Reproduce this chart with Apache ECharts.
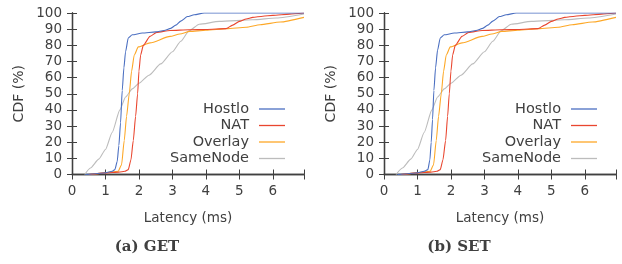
<!DOCTYPE html>
<html>
<head>
<meta charset="utf-8">
<script src="https://cdn.jsdelivr.net/npm/echarts@6/dist/echarts.min.js"></script>
<style>
  html, body { margin: 0; padding: 0; background: #fff; }
  #main { width: 622px; height: 264px; }
</style>
</head>
<body>
<div id="main"></div>
<script>
// series names and tick labels
var names = ['Hostlo', 'NAT', 'Overlay', 'SameNode'];
var colors = ['#4b6fc1', '#e9462f', '#fda827', '#bcbcbc'];
var xTicks = [0, 1, 2, 3, 4, 5, 6];
var yTicks = [0, 10, 20, 30, 40, 50, 60, 70, 80, 90, 100];

// (a) GET : latency (ms) / cdf (%)
var getHostloLat = [0.4, 0.7, 1.0, 1.2, 1.28, 1.35, 1.4, 1.45, 1.5, 1.55, 1.6, 1.68, 1.8, 2.1, 2.5, 2.75, 2.95, 3.1, 3.25, 3.45, 3.65, 3.95, 6.93];
var getHostloCdf = [0, 0.5, 1, 2, 3, 8, 18, 32, 52, 66, 76, 84.5, 86.5, 87.6, 88.3, 89.2, 90.5, 92.5, 95, 97.8, 98.9, 100, 100];
var getNatLat = [0.5, 1.0, 1.4, 1.58, 1.68, 1.76, 1.83, 1.9, 1.96, 2.0, 2.05, 2.13, 2.33, 2.53, 2.93, 3.5, 4.0, 4.6, 4.8, 5.0, 5.2, 5.4, 5.7, 6.0, 6.5, 6.93];
var getNatCdf = [0, 1, 1.5, 2, 3, 9, 21, 36, 50, 64, 74, 80, 85.5, 88, 89.2, 89.6, 89.8, 90.3, 92.5, 94.8, 96.3, 97.3, 98, 98.5, 99.3, 100];
var getOverlayLat = [0.5, 1.0, 1.38, 1.48, 1.56, 1.63, 1.71, 1.78, 1.86, 1.98, 2.33, 2.93, 3.22, 3.52, 4.0, 4.62, 5.2, 5.62, 6.22, 6.93];
var getOverlayCdf = [0, 1, 2, 6, 21, 36, 50, 64, 74, 79, 81.5, 85.5, 87, 88.6, 89.3, 90.3, 91.2, 92.7, 94.4, 97.3];
var getSameLat = [0.38, 0.55, 0.8, 1.0, 1.2, 1.43, 1.6, 1.8, 2.0, 2.3, 2.65, 3.0, 3.25, 3.5, 3.8, 4.4, 5.4, 6.1, 6.93];
var getSameCdf = [0, 4, 9.5, 15.5, 26, 40, 48, 53, 56.5, 61.5, 68.5, 76, 82.5, 89, 93, 94.8, 95.8, 96.9, 99.4];

// (b) SET
var setHostloLat = [0.4, 0.7, 1.0, 1.2, 1.31, 1.37, 1.41, 1.45, 1.49, 1.54, 1.6, 1.68, 1.8, 2.1, 2.5, 2.75, 2.95, 3.1, 3.25, 3.45, 3.65, 3.95, 6.93];
var setHostloCdf = [0, 0.5, 1, 2, 3, 9, 20, 34, 52, 66, 77, 84.5, 86.5, 87.6, 88.3, 89.2, 90.5, 92.5, 95, 97.8, 98.9, 100, 100];
var setNatLat = [0.5, 1.0, 1.4, 1.58, 1.68, 1.76, 1.84, 1.9, 1.95, 2.0, 2.05, 2.13, 2.33, 2.53, 2.93, 3.5, 4.0, 4.6, 4.8, 5.0, 5.2, 5.4, 5.7, 6.0, 6.5, 6.93];
var setNatCdf = [0, 1, 1.5, 2, 3, 9, 21, 36, 50, 64, 74, 80, 85.5, 88, 89.2, 89.6, 89.8, 90.3, 92.5, 94.8, 96.3, 97.3, 98, 98.5, 99.3, 100];
var setOverlayLat = [0.5, 1.0, 1.38, 1.48, 1.56, 1.63, 1.71, 1.78, 1.86, 1.98, 2.33, 2.93, 3.22, 3.52, 4.0, 4.62, 5.2, 5.62, 6.22, 6.93];
var setOverlayCdf = [0, 1, 2, 6, 21, 36, 50, 64, 74, 79, 81.5, 85.5, 87, 88.6, 89.3, 90.3, 91.2, 92.7, 94.4, 97.3];
var setSameLat = [0.36, 0.55, 0.8, 1.0, 1.2, 1.43, 1.6, 1.8, 2.0, 2.3, 2.65, 3.0, 3.25, 3.5, 3.8, 4.4, 5.4, 6.1, 6.93];
var setSameCdf = [0, 4, 9.5, 15.5, 26, 40, 48, 53, 56.5, 61.5, 68.5, 76, 82.5, 89, 93, 94.8, 95.8, 96.9, 99.4];

var captions = ['(a) GET', '(b) SET'];

function pairs(xs, ys) {
    var out = [];
    for (var i = 0; i < xs.length; i++) out.push([xs[i], ys[i]]);
    return out;
}

var panels = [
    [pairs(getHostloLat, getHostloCdf), pairs(getNatLat, getNatCdf), pairs(getOverlayLat, getOverlayCdf), pairs(getSameLat, getSameCdf)],
    [pairs(setHostloLat, setHostloCdf), pairs(setNatLat, setNatCdf), pairs(setOverlayLat, setOverlayCdf), pairs(setSameLat, setSameCdf)]
];

var txt = '#404040';
var frame = '#404040';
var font = 'DejaVu Sans';
var xMax = 6.93;

var grids = [], xAxes = [], yAxes = [], series = [], legends = [], graphics = [];
var gridLeft = [72, 384];

for (var p = 0; p < 2; p++) {
    grids.push({ left: gridLeft[p], top: 13, width: 232, height: 161.5 });
    // bottom x axis
    xAxes.push({
        type: 'value', gridIndex: p, min: 0, max: xMax, interval: 1,
        name: 'Latency (ms)', nameLocation: 'middle', nameGap: 37,
        nameTextStyle: { color: txt, fontSize: 13.5, fontFamily: font },
        axisLine: { lineStyle: { color: frame, width: 1.3 } },
        axisTick: { inside: true, length: 5, lineStyle: { color: frame } },
        axisLabel: {
            color: txt, fontSize: 13.5, fontFamily: font, margin: 10,
            formatter: function (v) { return xTicks.indexOf(v) >= 0 ? String(v) : ''; }
        },
        splitLine: { show: false }
    });
    // top x axis (frame)
    xAxes.push({
        type: 'value', gridIndex: p, position: 'top', min: 0, max: xMax, interval: 1,
        axisLine: { lineStyle: { color: frame, width: 1.3 } },
        axisTick: { inside: true, length: 5, lineStyle: { color: frame } },
        axisLabel: { show: false },
        splitLine: { show: false }
    });
    yAxes.push({
        type: 'value', gridIndex: p, min: 0, max: 100, interval: 10,
        name: 'CDF (%)', nameLocation: 'middle', nameGap: 46,
        nameTextStyle: { color: txt, fontSize: 14, fontFamily: font },
        axisLine: { show: true, lineStyle: { color: frame, width: 1.3 } },
        axisTick: { show: true, inside: true, length: 5, lineStyle: { color: frame } },
        axisLabel: {
            color: txt, fontSize: 13.5, fontFamily: font, margin: 10,
            formatter: function (v) { return yTicks.indexOf(v) >= 0 ? String(v) : ''; }
        },
        splitLine: { show: false }
    });
    yAxes.push({
        type: 'value', gridIndex: p, position: 'right', min: 0, max: 100, interval: 10,
        axisLine: { show: true, lineStyle: { color: frame, width: 1.3 } },
        axisTick: { show: true, inside: true, length: 5, lineStyle: { color: frame } },
        axisLabel: { show: false },
        splitLine: { show: false }
    });
    for (var s = 0; s < names.length; s++) {
        series.push({
            name: names[s], type: 'line',
            xAxisIndex: p * 2, yAxisIndex: p * 2,
            data: panels[p][s],
            symbol: 'none', smooth: 0.2, smoothMonotone: 'x',
            color: colors[s],
            lineStyle: { width: 1.1, color: colors[s] },
            z: 10 - s
        });
    }
    legends.push({
        data: names, orient: 'vertical', align: 'right',
        right: p === 0 ? 337 : 25, top: 101.5, padding: 0,
        icon: 'rect', itemWidth: 26, itemHeight: 1.3, itemGap: 1.5,
        selectedMode: false,
        textStyle: { color: txt, fontSize: 14.5, fontFamily: font, lineHeight: 14, padding: [0, 5, 0, 0] }
    });
    graphics.push({
        type: 'text', x: p === 0 ? 147 : 459, y: 247,
        style: {
            text: captions[p], fill: txt, font: 'bold 15px "DejaVu Serif"',
            textAlign: 'center', textVerticalAlign: 'middle'
        }
    });
}

var myChart = echarts.init(document.getElementById('main'));
myChart.setOption({
    animation: false,
    backgroundColor: '#fff',
    grid: grids,
    xAxis: xAxes,
    yAxis: yAxes,
    legend: legends,
    series: series,
    graphic: graphics
});
</script>
</body>
</html>
